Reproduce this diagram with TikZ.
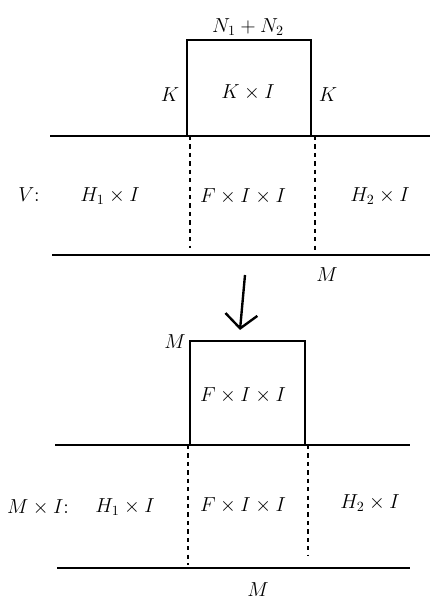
\documentclass[tikz,border=0pt]{standalone}
\usepackage{amsmath, amssymb}
\usepackage{xcolor}
\usepackage{tikz}
\usetikzlibrary{calc, arrows.meta, positioning}

\begin{document}
\begin{tikzpicture}[>={Straight Barb[length=3.5mm, width=8mm]}, line width=1.7pt,
    lbl/.style={font=\Large},
    cut/.style={dashed, dash pattern=on 3pt off 3pt}]
    \useasboundingbox (0,0) rectangle (10.75,15.175);

    % 1. V: dai tren va hop K x I
    \coordinate (tA) at (1.25,11.775);   \coordinate (tB) at (10.75,11.775);
    \coordinate (tC) at (1.3,8.8);       \coordinate (tD) at (10.75,8.8);
    \coordinate (kL) at (4.675,11.775);  \coordinate (kR) at (7.775,11.775);
    \draw (tA) -- (tB);
    \draw (tC) -- (tD);
    \draw (kL) -- (4.675,14.175) -- (7.775,14.175) -- (kR);
    \draw[cut] (4.75,11.775) -- (4.75,8.975);
    \draw[cut] (7.875,11.775) -- (7.875,8.8);

    \node[lbl] (nn) at (6.2,14.5) {$N_1+N_2$};
    \node[lbl] (kl) at (4.25,12.8) {$K$};
    \node[lbl] (ki) at (6.2,12.875) {$K\times I$};
    \node[lbl] (kr) at (8.2,12.8) {$K$};
    \node[lbl] (v) at (0.725,10.3) {$V$:};
    \node[lbl] (h1) at (2.75,10.275) {$H_1\times I$};
    \node[lbl] (f1) at (6.075,10.275) {$F\times I\times I$};
    \node[lbl] (h2) at (9.5,10.275) {$H_2\times I$};
    \node[lbl] (m1) at (8.175,8.3) {$M$};

    % 2. Mui ten
    \coordinate (a1) at (6.125,8.3);
    \coordinate (a2) at (6.0,6.925);
    \draw[->] (a1) -- (a2);

    % 3. M x I: dai duoi va hop F x I x I
    \coordinate (bA) at (1.375,4.05);    \coordinate (bB) at (10.25,4.05);
    \coordinate (bC) at (1.425,0.975);   \coordinate (bD) at (10.25,0.975);
    \coordinate (fL) at (4.75,4.05);     \coordinate (fR) at (7.625,4.05);
    \draw (bA) -- (bB);
    \draw (bC) -- (bD);
    \draw (fL) -- (4.75,6.65) -- (7.625,6.65) -- (fR);
    \draw[cut] (4.7,4.05) -- (4.7,1.05);
    \draw[cut] (7.7,4.05) -- (7.7,1.3);

    \node[lbl] (m2) at (4.375,6.625) {$M$};
    \node[lbl] (f2) at (6.075,5.3) {$F\times I\times I$};
    \node[lbl] (mi) at (0.95,2.5) {$M\times I$:};
    \node[lbl] (h3) at (3.125,2.5) {$H_1\times I$};
    \node[lbl] (f3) at (6.075,2.55) {$F\times I\times I$};
    \node[lbl] (h4) at (9.25,2.6) {$H_2\times I$};
    \node[lbl] (m3) at (6.45,0.425) {$M$};
\end{tikzpicture}
\end{document}
